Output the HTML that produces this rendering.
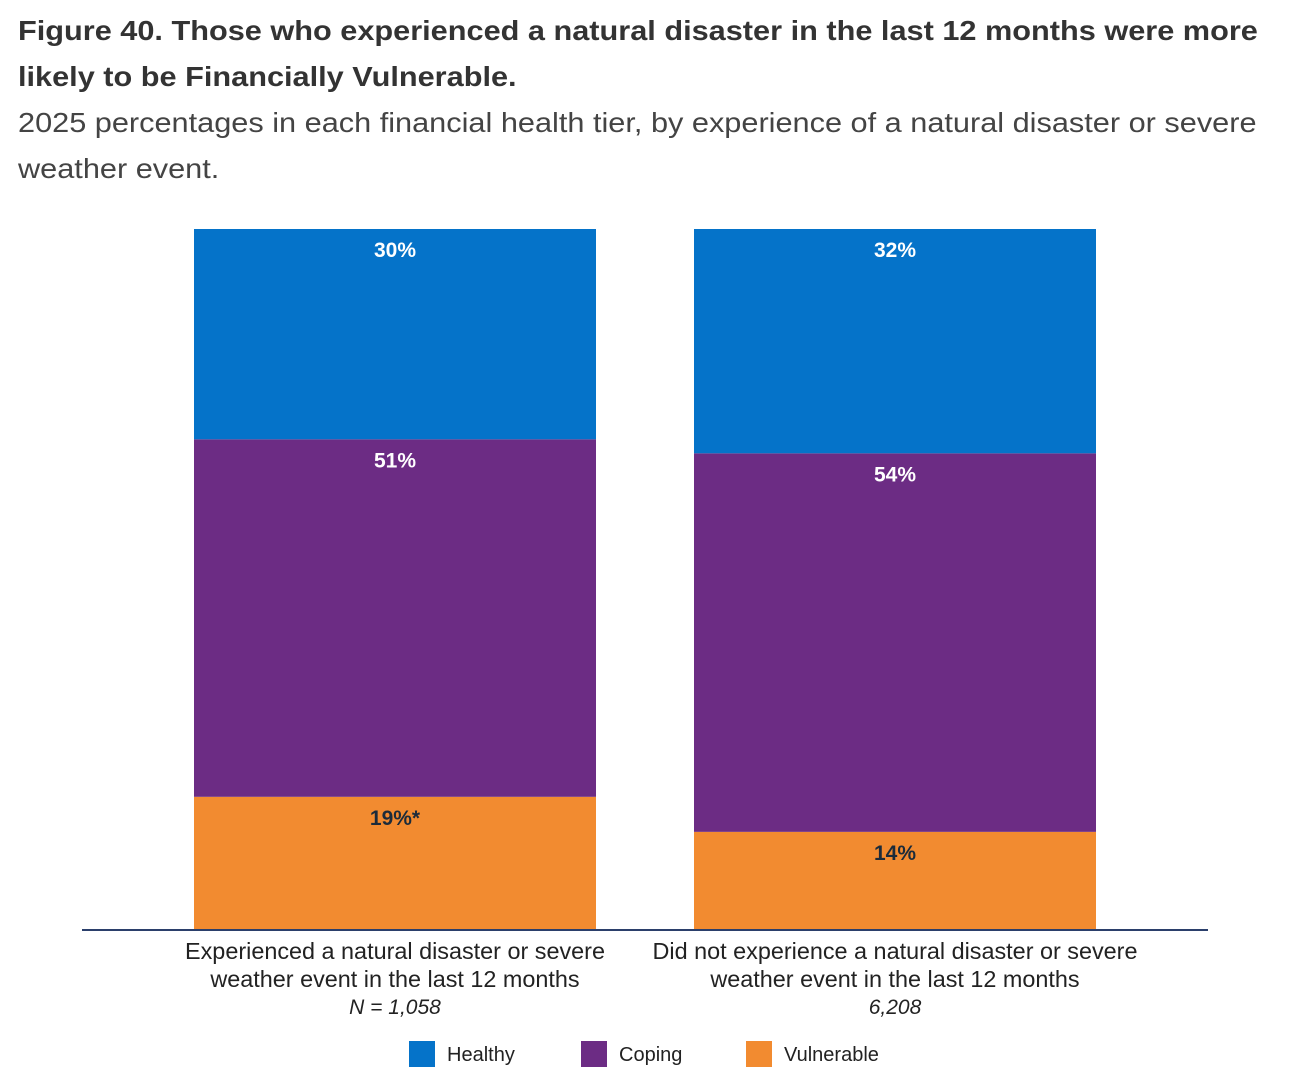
<!DOCTYPE html>
<html><head><meta charset="utf-8"><style>
body{margin:0;width:1308px;height:1090px;background:#fff;font-family:"Liberation Sans",sans-serif;position:relative;overflow:hidden}
.t{position:absolute;left:18px;white-space:nowrap;color:#333;transform:scaleX(1.096);transform-origin:0 0}
.title{font-weight:bold;font-size:28px}
.sub{font-size:28px;color:#444}
</style></head><body>
<div class="t title" style="top:15px">Figure 40. Those who experienced a natural disaster in the last 12 months were more</div>
<div class="t title" style="top:61px">likely to be Financially Vulnerable.</div>
<div class="t sub" style="top:107px">2025 percentages in each financial health tier, by experience of a natural disaster or severe</div>
<div class="t sub" style="top:153px">weather event.</div>
<svg id="c" width="1308" height="1090" style="position:absolute;left:0;top:0"></svg>
<script>
const categories=["Experienced a natural disaster or severe|weather event in the last 12 months","Did not experience a natural disaster or severe|weather event in the last 12 months"];
const sampleLabels=["N = 1,058","6,208"];
const healthy=[30,32];
const coping=[51,54];
const vulnerable=[19,14];
const valueLabels={healthy:["30%","32%"],coping:["51%","54%"],vulnerable:["19%*","14%"]};
const seriesNames=["Healthy","Coping","Vulnerable"];
const colors=["#0573C9","#6C2C84","#F28B30"];
const NS="http://www.w3.org/2000/svg",svg=document.getElementById('c');
const top0=229,bottom0=930;
const y=v=>bottom0-(v/100)*(bottom0-top0);
const xc=i=>395+i*500, bw=402;
function mk(t,a){const e=document.createElementNS(NS,t);for(const k in a)e.setAttribute(k,a[k]);svg.appendChild(e);return e;}
const series=[healthy,coping,vulnerable], keys=["healthy","coping","vulnerable"];
categories.forEach((c,i)=>{
  let cum=0;
  [2,1,0].forEach(s=>{
    const v=series[s][i];
    const y1=y(cum+v), y0=y(cum);
    const r=mk('rect',{x:xc(i)-bw/2,y:y1,width:bw,height:y0-y1,fill:colors[s]});
    
    
    const t=mk('text',{x:xc(i),y:y1+28,'text-anchor':'middle','font-size':'21','font-weight':'bold',fill:s==2?'#1c2b3a':'#fff'});
    t.textContent=valueLabels[keys[s]][i];
    
    
    cum+=v;
  });
  const lines=c.split('|');
  lines.forEach((l,j)=>{
    const t=mk('text',{x:xc(i),y:959+j*28,'text-anchor':'middle','font-size':'23.4',fill:'#222'});
    t.textContent=l;
    
    
  });
  const n=mk('text',{x:xc(i),y:1014,'text-anchor':'middle','font-size':'21','font-style':'italic',fill:'#222'});
  n.textContent=sampleLabels[i];
  
  
});
const ax=mk('line',{x1:82,x2:1208,y1:930,y2:930,stroke:'#2b3f6b','stroke-width':2});


const lx=[409,581,746];
seriesNames.forEach((s,k)=>{
  const r=mk('rect',{x:lx[k],y:1041,width:26,height:26,fill:colors[k]});
  
  
  const t=mk('text',{x:lx[k]+38,y:1061,'font-size':'20',fill:'#222'});
  t.textContent=s;
  
  
});
</script>
</body></html>
